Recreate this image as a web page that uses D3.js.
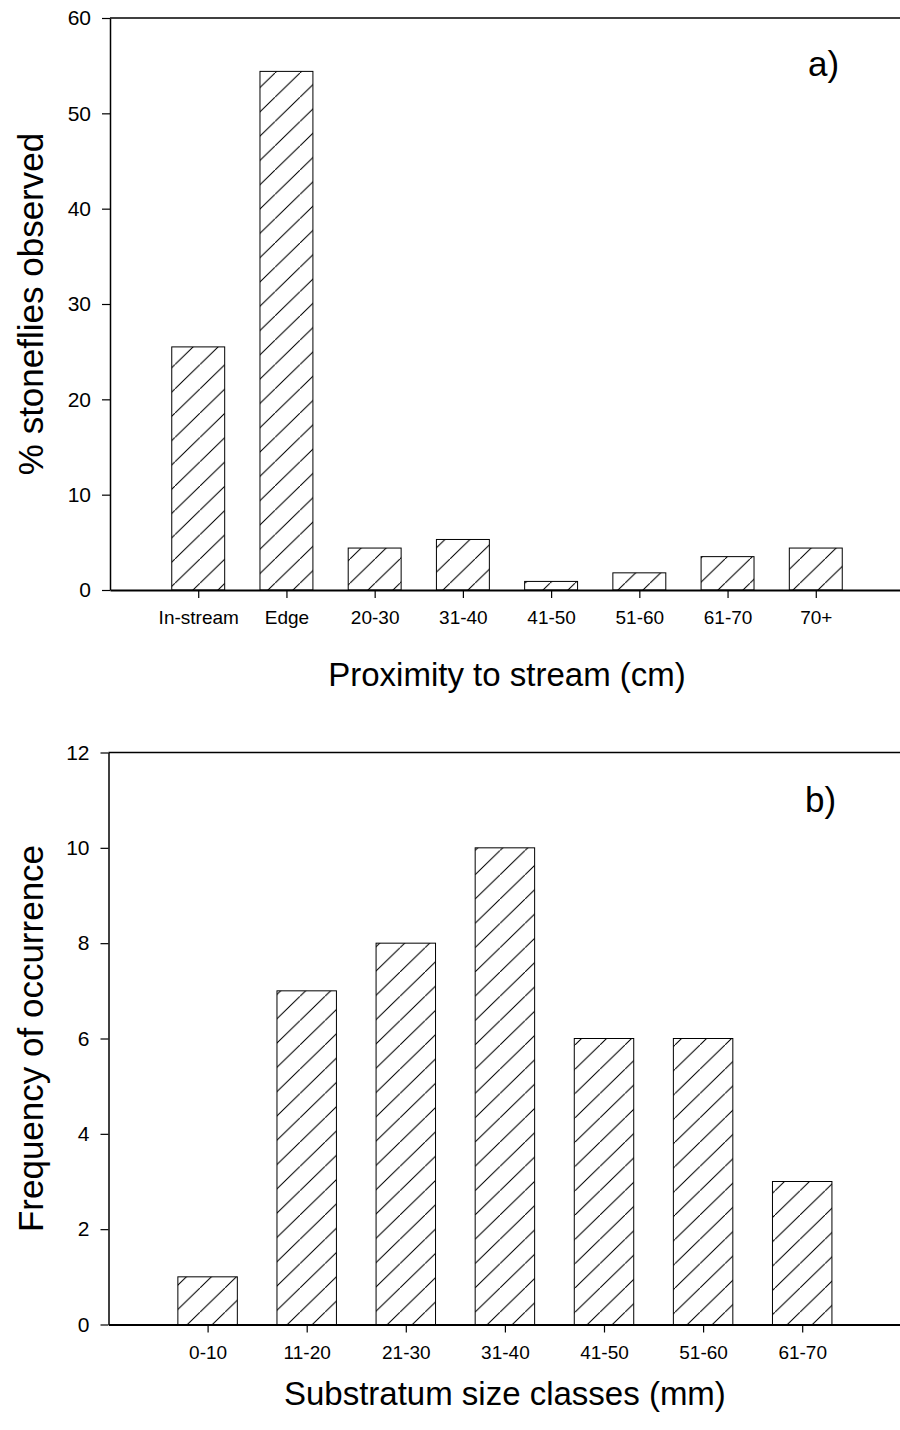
<!DOCTYPE html>
<html>
<head>
<meta charset="utf-8">
<script src="https://cdn.jsdelivr.net/npm/d3@7"></script>
<style>
  html, body { margin: 0; padding: 0; background: #fff; }
  svg text { font-family: "Liberation Sans", Arial, sans-serif; fill: #000; }
</style>
</head>
<body>
<svg id="chart" width="900" height="1430"></svg>
<script>
// ---- Data ----
const proximityCategories = ["In-stream", "Edge", "20-30", "31-40", "41-50", "51-60", "61-70", "70+"];
const proximityValues = [25.5, 54.4, 4.4, 5.3, 0.9, 1.8, 3.5, 4.4];
const proximityYTicks = [0, 10, 20, 30, 40, 50, 60];

const substratumCategories = ["0-10", "11-20", "21-30", "31-40", "41-50", "51-60", "61-70"];
const substratumValues = [1, 7, 8, 10, 6, 6, 3];
const substratumYTicks = [0, 2, 4, 6, 8, 10, 12];

const svg = d3.select("#chart");

// hatch pattern
const defs = svg.append("defs");
const pat = defs.append("pattern")
  .attr("id", "hatch")
  .attr("patternUnits", "userSpaceOnUse")
  .attr("width", 25).attr("height", 24.3);
pat.append("rect").attr("width", 25).attr("height", 24.3).attr("fill", "#fff");
pat.append("line")
  .attr("x1", -1).attr("y1", 25.3).attr("x2", 26).attr("y2", -1)
  .attr("stroke", "#000").attr("stroke-width", 1);

function drawPanel(cfg) {
  const g = svg.append("g");
  const x = d3.scaleLinear().domain(cfg.xDomain).range(cfg.xRange);
  const y = d3.scaleLinear().domain(cfg.yDomain).range(cfg.yRange);
  const data = cfg.categories.map((c, i) => ({ c, v: cfg.values[i], pos: i + 1 }));
  const halfW = 0.3;

  // bars
  g.selectAll("rect.bar").data(data).enter().append("rect")
    .attr("class", "bar")
    .attr("x", d => x(d.pos - halfW))
    .attr("width", d => x(d.pos + halfW) - x(d.pos - halfW))
    .attr("y", d => y(d.v))
    .attr("height", d => y(0) - y(d.v))
    .attr("fill", "url(#hatch)")
    .attr("stroke", "#000")
    .attr("stroke-width", 1);

  const x0 = x(cfg.xDomain[0]), x1 = x(cfg.xDomain[1]);
  const yTop = y(cfg.yDomain[1]), yBot = y(cfg.yDomain[0]);
  g.append("line").attr("x1", x0).attr("x2", x1).attr("y1", yTop).attr("y2", yTop)
    .attr("stroke", "#000").attr("stroke-width", 1.5);

  // y axis
  const ya = g.append("g").attr("transform", `translate(${x0},0)`)
    .call(d3.axisLeft(y).tickValues(cfg.yTicks).tickSize(8).tickSizeOuter(0).tickPadding(11));
  ya.select(".domain").attr("stroke-width", 1.5);
  ya.selectAll(".tick line").attr("stroke-width", 1.2);
  ya.selectAll("text").attr("font-size", 21).attr("font-family", '"Liberation Sans", Arial, sans-serif');

  // x axis
  const xa = g.append("g").attr("transform", `translate(0,${yBot})`)
    .call(d3.axisBottom(x).tickValues(data.map(d => d.pos))
      .tickFormat((d, i) => cfg.categories[i]).tickSize(8).tickSizeOuter(0).tickPadding(13));
  xa.select(".domain").attr("stroke-width", 1.8);
  xa.selectAll(".tick line").attr("stroke-width", 1.2);
  xa.selectAll("text").attr("font-size", 19).attr("font-family", '"Liberation Sans", Arial, sans-serif');

  // titles
  g.append("text")
    .attr("x", (x0 + x1) / 2).attr("y", cfg.xTitleY)
    .attr("text-anchor", "middle").attr("font-size", 33)
    .text(cfg.xTitle);
  g.append("text")
    .attr("transform", `translate(${cfg.yTitleX},${(yTop + yBot) / 2}) rotate(-90)`)
    .attr("text-anchor", "middle").attr("font-size", 35)
    .text(cfg.yTitle);
  g.append("text")
    .attr("x", cfg.labelX).attr("y", cfg.labelY)
    .attr("font-size", 35)
    .text(cfg.label);
}

drawPanel({
  categories: proximityCategories,
  values: proximityValues,
  yTicks: proximityYTicks,
  xDomain: [0, 9], xRange: [110, 904],
  yDomain: [0, 60], yRange: [590, 18],
  xTitle: "Proximity to stream (cm)", xTitleY: 686,
  yTitle: "% stoneflies observed", yTitleX: 43,
  label: "a)", labelX: 808, labelY: 76
});

drawPanel({
  categories: substratumCategories,
  values: substratumValues,
  yTicks: substratumYTicks,
  xDomain: [0, 8], xRange: [108.5, 901.3],
  yDomain: [0, 12], yRange: [1324.5, 752.5],
  xTitle: "Substratum size classes (mm)", xTitleY: 1405,
  yTitle: "Frequency of occurrence", yTitleX: 43,
  label: "b)", labelX: 805, labelY: 812
});
</script>
</body>
</html>
